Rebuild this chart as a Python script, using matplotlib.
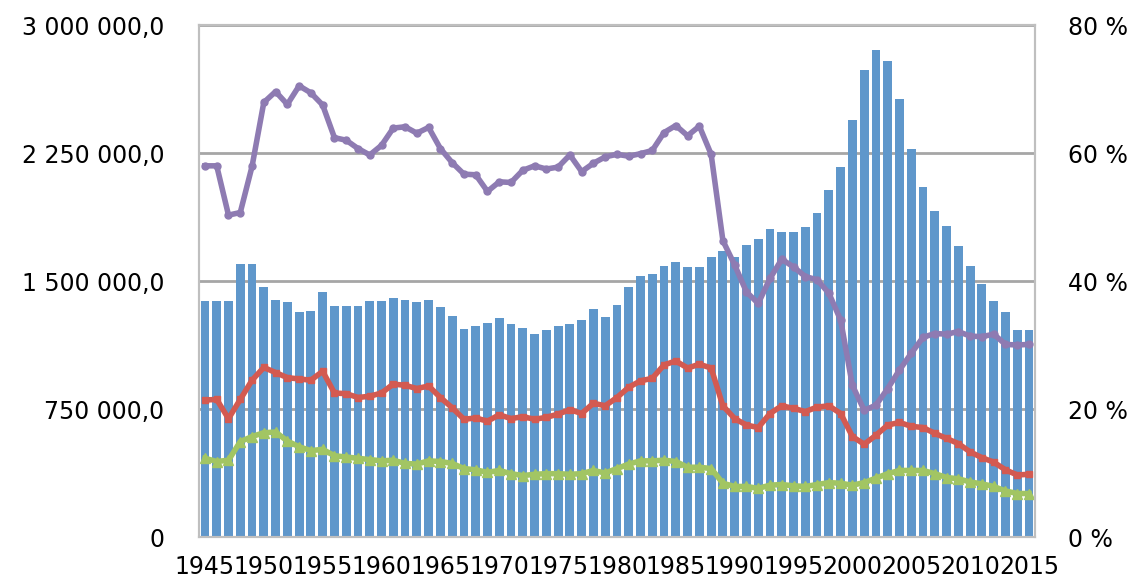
import numpy as np
import matplotlib
matplotlib.use('Agg')
import matplotlib.pyplot as plt
from matplotlib.ticker import FuncFormatter

years = list(range(1945, 2016))

# left axis: bars
totals = [1383000, 1383000, 1383000, 1600000, 1600000, 1465000, 1389000, 1377000, 1318000, 1324000,
          1435000, 1353000, 1353000, 1353000, 1383000, 1383000, 1400000, 1389000, 1377000, 1389000,
          1348000, 1295000, 1219000, 1236000, 1254000, 1283000, 1248000, 1225000, 1190000, 1213000,
          1236000, 1248000, 1271000, 1336000, 1289000, 1359000, 1465000, 1529000, 1541000, 1588000,
          1611000, 1582000, 1582000, 1641000, 1676000, 1641000, 1711000, 1746000, 1805000, 1787000,
          1787000, 1816000, 1898000, 2033000, 2168000, 2443000, 2736000, 2854000, 2789000, 2566000,
          2273000, 2051000, 1910000, 1822000, 1705000, 1588000, 1482000, 1383000, 1318000, 1213000,
          1213000]

# right axis: shares in %
purple = [58.0, 58.0, 50.3, 50.7, 57.9, 67.9, 69.6, 67.6, 70.5, 69.4,
          67.5, 62.4, 62.0, 60.7, 59.7, 61.2, 63.9, 64.1, 63.1, 64.0,
          60.7, 58.5, 56.7, 56.6, 54.0, 55.5, 55.4, 57.3, 58.0, 57.5,
          57.8, 59.7, 57.1, 58.4, 59.4, 59.8, 59.5, 59.9, 60.4, 63.2,
          64.3, 62.7, 64.2, 59.8, 46.3, 42.5, 38.3, 36.5, 40.4, 43.4,
          42.2, 40.7, 40.2, 38.1, 33.9, 23.7, 19.8, 20.6, 23.2, 26.1,
          28.7, 31.2, 31.8, 31.7, 32.1, 31.4, 31.3, 31.7, 30.1, 30.0,
          30.1]
red = [21.4, 21.5, 18.5, 21.5, 24.5, 26.5, 25.7, 24.9, 24.7, 24.5,
       25.9, 22.5, 22.4, 21.8, 22.0, 22.5, 23.9, 23.7, 23.2, 23.6,
       21.8, 20.2, 18.4, 18.6, 18.1, 19.1, 18.5, 18.8, 18.4, 18.7,
       19.2, 19.9, 19.3, 20.9, 20.5, 21.8, 23.4, 24.4, 24.8, 26.9,
       27.5, 26.4, 27.0, 26.4, 20.5, 18.5, 17.5, 17.1, 19.3, 20.5,
       20.1, 19.6, 20.3, 20.5, 19.3, 15.7, 14.5, 15.9, 17.5, 17.9,
       17.3, 17.1, 16.2, 15.4, 14.6, 13.3, 12.4, 11.7, 10.5, 9.7,
       9.8]
green = [12.3, 11.8, 12.0, 14.9, 15.7, 16.3, 16.4, 15.0, 14.1, 13.5,
         13.7, 12.7, 12.5, 12.3, 12.1, 11.9, 12.0, 11.5, 11.4, 11.9,
         11.8, 11.5, 10.7, 10.5, 10.1, 10.4, 9.9, 9.6, 9.8, 9.9,
         9.9, 9.8, 9.9, 10.4, 10.0, 10.7, 11.4, 11.9, 11.9, 12.0,
         11.8, 10.9, 10.9, 10.7, 8.4, 7.9, 7.9, 7.6, 8.1, 8.2,
         8.0, 7.9, 8.2, 8.5, 8.4, 8.1, 8.5, 9.2, 9.9, 10.4,
         10.4, 10.4, 9.9, 9.3, 9.1, 8.6, 8.3, 7.9, 7.2, 6.8,
         6.8]


def left_fmt(v, pos):
    if v == 0:
        return '0'
    return '{:,.1f}'.format(v).replace(',', ' ').replace('.', ',')


def right_fmt(v, pos):
    return '{:.0f} %'.format(v)


def main():
    fig = plt.figure(figsize=(11.31, 5.78), dpi=100)
    ax = fig.add_axes([0.176, 0.0709, 0.739, 0.8858])
    ax2 = ax.twinx()

    x = np.arange(len(years))
    ax.bar(x, totals, 0.75, color='#5F97CB', zorder=2)
    ax.set_xlim(-0.5, len(years) - 0.5)
    ax.set_ylim(0, 3000000)
    ax.set_yticks([0, 750000, 1500000, 2250000, 3000000])
    ax.yaxis.set_major_formatter(FuncFormatter(left_fmt))
    ax.set_axisbelow(True)
    ax.grid(True, axis='y', color='#A6A6A6', lw=2)

    ax.set_xticks(x[::5])
    ax.set_xticklabels([str(y) for y in years[::5]])

    ax2.plot(x, purple, color='#8E7BB2', lw=4, marker='o', ms=5)
    ax2.plot(x, red, color='#D35A51', lw=4, marker='s', ms=5)
    ax2.plot(x, green, color='#A2C563', lw=4, marker='^', ms=7)
    ax2.set_ylim(0, 80)
    ax2.set_yticks([0, 20, 40, 60, 80])
    ax2.yaxis.set_major_formatter(FuncFormatter(right_fmt))

    for a in (ax, ax2):
        for s in a.spines.values():
            s.set_color('#BFBFBF')
            s.set_linewidth(1.5)
        a.tick_params(length=0, labelsize=17)
    ax.tick_params(axis='y', pad=25)
    ax.tick_params(axis='x', pad=13)
    ax2.tick_params(axis='y', pad=24)

    fig.savefig('out.png', dpi=100)


if __name__ == '__main__':
    main()
